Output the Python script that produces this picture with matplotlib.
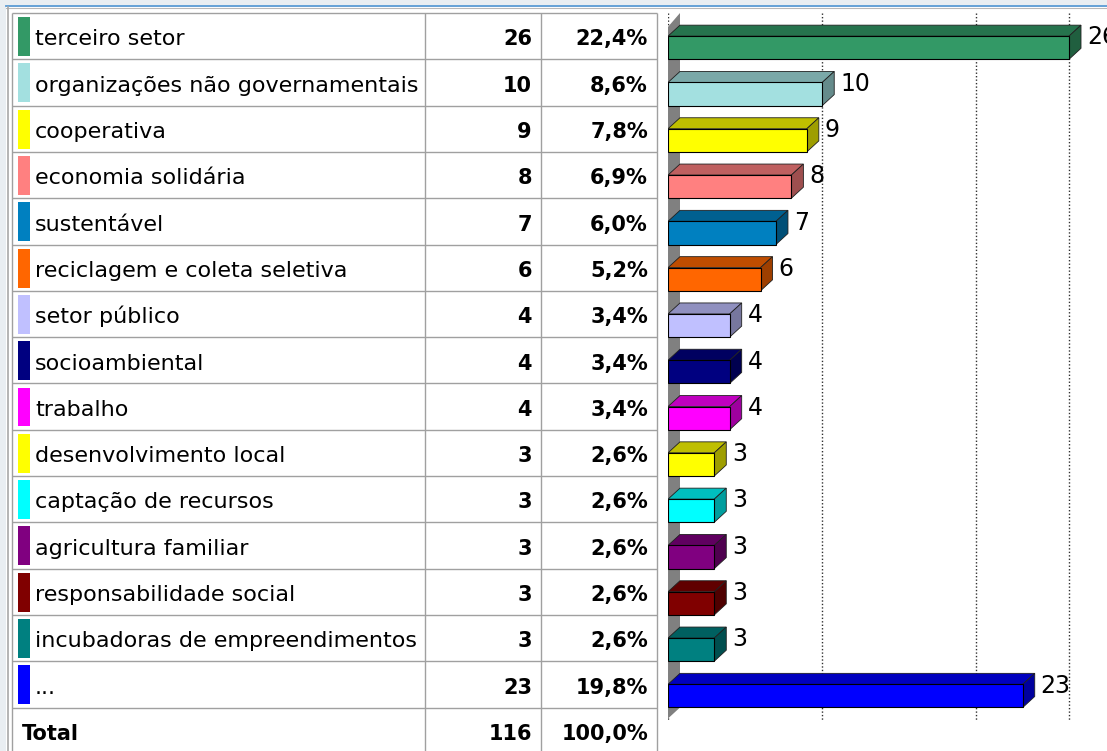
import numpy as np
import matplotlib
matplotlib.use('Agg')
import matplotlib.pyplot as plt
from matplotlib.patches import Rectangle, Polygon
from matplotlib.lines import Line2D
from matplotlib.colors import to_rgb

plt.rcParams['font.family'] = ['DejaVu Sans']

# Data
categories = ['terceiro setor', 'organizações não governamentais', 'cooperativa',
              'economia solidária', 'sustentável', 'reciclagem e coleta seletiva',
              'setor público', 'socioambiental', 'trabalho', 'desenvolvimento local',
              'captação de recursos', 'agricultura familiar', 'responsabilidade social',
              'incubadoras de empreendimentos', '...']
counts = [26, 10, 9, 8, 7, 6, 4, 4, 4, 3, 3, 3, 3, 3, 23]
percents = [22.4, 8.6, 7.8, 6.9, 6.0, 5.2, 3.4, 3.4, 3.4, 2.6, 2.6, 2.6, 2.6, 2.6, 19.8]
colors = ['#339966', '#a3e0e0', '#ffff00', '#ff8080', '#0080c0', '#ff6600',
          '#c0c0ff', '#000080', '#ff00ff', '#ffff00', '#00ffff', '#800080',
          '#800000', '#008080', '#0000ff']
grid_ticks = [0, 10, 20, 26]

# Layout (pixels)
W, H = 1107, 751
TOP = 13
ROW_H = 46.3
PX_UNIT = 401 / 26
DEPTH_X, DEPTH_Y = 12, 11
line_c = '#a0a0a0'

fig = plt.figure(figsize=(W / 100, H / 100), dpi=100)
fig.patch.set_facecolor('white')


def px_axes(x0, y0, x1, y1):
    return fig.add_axes([x0 / W, 1 - y1 / H, (x1 - x0) / W, (y1 - y0) / H])


def fmt_pct(p):
    return f'{p:.1f}%'.replace('.', ',')


def shade(c, f):
    r, g, b = to_rgb(c)
    return (r * f, g * f, b * f)


n_vis = (H - TOP) / ROW_H
n = len(categories)

# window frame
fig.add_artist(Rectangle((0, 1 - 7 / H), 1, 7 / H, transform=fig.transFigure,
                         fc='#e9eef2', ec='none'))
fig.add_artist(Rectangle((0, 0), 6 / W, 1, transform=fig.transFigure,
                         fc='#e9eef2', ec='none'))
fig.add_artist(Line2D([6 / W, 1], [1 - 5.5 / H] * 2, transform=fig.transFigure,
                      color='#5b9bd5', lw=1.3))
fig.add_artist(Line2D([6 / W, 1], [1 - 7.5 / H] * 2, transform=fig.transFigure,
                      color='#b8b8b8', lw=0.8))
fig.add_artist(Line2D([7.5 / W] * 2, [0, 1 - 7 / H], transform=fig.transFigure,
                      color='#a8a8a8', lw=1.2))

# ---- table ----
tab = px_axes(12, TOP, 657, H)
tab.set_xlim(0, 645)
tab.set_ylim(n_vis, 0)
tab.axis('off')

tab.hlines(np.arange(n + 2), 0, 645, colors=line_c, lw=1, clip_on=False)
tab.vlines([0, 413, 529, 645], 0, n_vis, colors=line_c, lw=1, clip_on=False)

for i, (lab, v, p, c) in enumerate(zip(categories, counts, percents, colors)):
    tab.add_patch(Rectangle((6, i + 0.09), 12, 0.84, fc=c, ec='none'))
    tab.text(23, i + 0.7, lab, fontsize=16, va='baseline')
    tab.text(520, i + 0.7, str(v), fontsize=15, fontweight='bold', ha='right', va='baseline')
    tab.text(636, i + 0.7, fmt_pct(p), fontsize=15, fontweight='bold', ha='right', va='baseline')

tab.text(10, n + 0.7, 'Total', fontsize=15, fontweight='bold', va='baseline')
tab.text(520, n + 0.7, str(sum(counts)), fontsize=15, fontweight='bold', ha='right', va='baseline')
tab.text(636, n + 0.7, fmt_pct(100.0), fontsize=15, fontweight='bold', ha='right', va='baseline')

# ---- 3D bar chart ----
ch = px_axes(668, TOP, W, H)
ch.set_xlim(0, (W - 668) / PX_UNIT)
ch.set_ylim(n_vis, 0)
ch.axis('off')

ddx = DEPTH_X / PX_UNIT
ddy = DEPTH_Y / ROW_H

ch.vlines(grid_ticks, 0, n + 1.25 * ddy, colors='#303030', lw=1,
          linestyles=(0, (1, 1.5)), zorder=1)

wall = Polygon([(0, 0.3), (ddx, 0), (ddx, n), (0, n + ddy)], closed=True,
               fc='#808080', ec='none', zorder=2)
ch.add_patch(wall)

for i, (v, c) in enumerate(zip(counts, colors)):
    y0 = i + 0.5
    y1 = i + 1.0
    ch.add_patch(Rectangle((0, y0), v, y1 - y0, fc=c, ec='black', lw=0.8, zorder=4))
    ch.add_patch(Polygon([(0, y0), (v, y0), (v + ddx, y0 - ddy), (ddx, y0 - ddy)],
                         closed=True, fc=shade(c, 0.75), ec='#202020', lw=0.6, zorder=3))
    ch.add_patch(Polygon([(v, y0), (v + ddx, y0 - ddy), (v + ddx, y1 - ddy), (v, y1)],
                         closed=True, fc=shade(c, 0.62), ec='#202020', lw=0.6, zorder=3))
    ch.text(v + ddx + 0.39, y0 + 0.18, str(v), fontsize=17, va='baseline',
            clip_on=False, zorder=5)

fig.savefig('out.png', dpi=100)
